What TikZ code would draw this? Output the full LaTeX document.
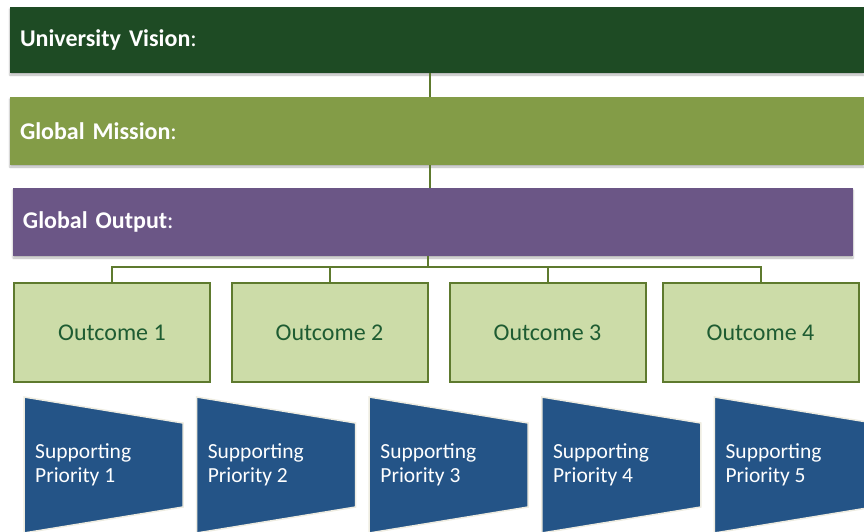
\documentclass[tikz,border=0pt]{standalone}
\usepackage{fontspec}
\setmainfont{Carlito}
\usetikzlibrary{shadows.blur}

\definecolor{visiongreen}{HTML}{1E4B24}
\definecolor{missiongreen}{HTML}{839C47}
\definecolor{outputpurple}{HTML}{6B5686}
\definecolor{outcomefill}{HTML}{CCDCA8}
\definecolor{outcomeline}{HTML}{5E7A2E}
\definecolor{outcometext}{HTML}{1E5C32}
\definecolor{priorityblue}{HTML}{245487}
\definecolor{priorityline}{HTML}{EEECE1}

\begin{document}
\begin{tikzpicture}[x=1pt,y=-1pt,
	bar/.style={draw=none,minimum height=68pt,inner xsep=10pt,inner ysep=0pt,
		align=left,text=white,font=\fontsize{24}{28}\selectfont,
		blur shadow={shadow xshift=0pt,shadow yshift=-2pt,shadow blur steps=4,shadow opacity=30}},
	outcome/.style={draw=outcomeline,line width=2pt,fill=outcomefill,
		minimum width=196pt,minimum height=99pt,text=outcometext,
		font=\fontsize{24}{28}\selectfont},
	priority/.style={draw=priorityline,line width=1.5pt,fill=priorityblue},
	prioritytext/.style={anchor=west,align=left,text=white,inner sep=0pt,
		font=\fontsize{21.5}{23.5}\selectfont},
	link/.style={draw=outcomeline,line width=2pt}]
	\useasboundingbox (0,0) rectangle (864,531);
	\coordinate (trunk) at (430,0);
	\coordinate (bus) at (428,267);
	% headline bars
	\node[bar,fill=visiongreen,minimum width=854pt,text width=834pt,minimum height=66pt] (vision) at (437,40) {\textbf{University Vision}:};
	\node[bar,fill=missiongreen,minimum width=854pt,text width=834pt] (mission) at (437,131) {\textbf{Global Mission}:};
	\node[bar,fill=outputpurple,minimum width=840pt,text width=820pt] (output) at (433,222) {\textbf{Global Output}:};
	\draw[link] (vision.south -| trunk) -- (mission.north -| trunk);
	\draw[link] (mission.south -| trunk) -- (output.north -| trunk);
	% outcomes
	\node[outcome] (out1) at (112,332.5) {Outcome 1};
	\node[outcome] (out2) at (329.5,332.5) {Outcome 2};
	\node[outcome] (out3) at (547.5,332.5) {Outcome 3};
	\node[outcome] (out4) at (760.5,332.5) {Outcome 4};
	\draw[link] (output.south -| bus) -- (bus);
	\draw[link] (out1.north) |- (bus) -| (out4.north);
	\draw[link] (out2.north) -- (out2.north |- bus);
	\draw[link] (out3.north) -- (out3.north |- bus);
	% supporting priorities
	\foreach \i in {1,...,5}{
		\pgfmathsetmacro{\px}{24+172.6*(\i-1)}
		\draw[priority] (\px,397) -- (\px+159,423) -- (\px+159,507) -- (\px,533) -- cycle;
		\node[prioritytext] (prio\i) at (\px+11,465) {Supporting\\Priority \i};
	}
\end{tikzpicture}
\end{document}
